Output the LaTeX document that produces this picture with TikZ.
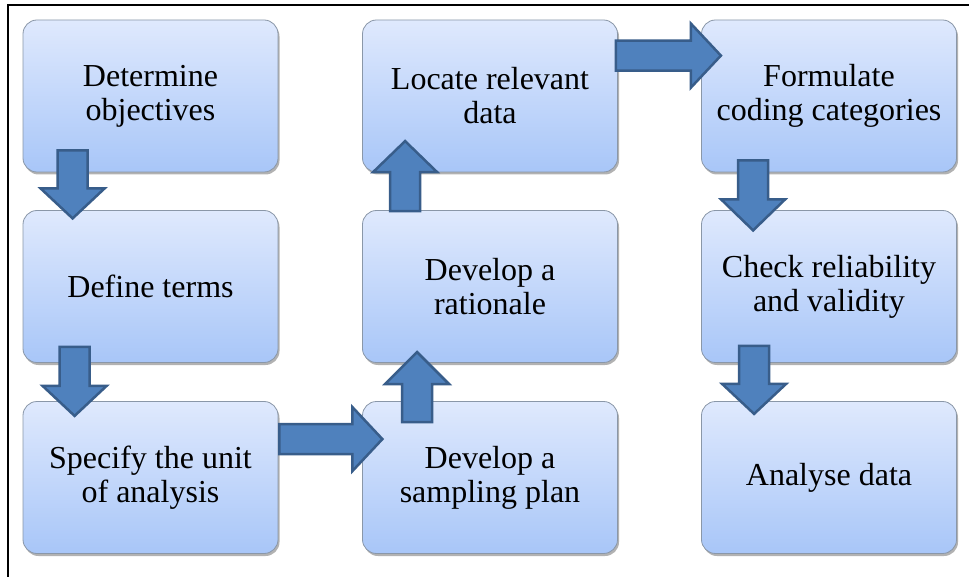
\documentclass[tikz,border=0pt]{standalone}
\usepackage{fontspec}
\setmainfont{Liberation Serif}
\usetikzlibrary{shadows}
\definecolor{boxtop}{HTML}{DFE9FD}
\definecolor{boxbot}{HTML}{A8C6F8}
\definecolor{boxline}{HTML}{8A97A8}
\definecolor{arrfill}{HTML}{4F81BD}
\definecolor{arrline}{HTML}{385D8A}
\tikzset{
  stepbox/.style={rectangle, rounded corners=14pt, minimum width=255pt, minimum height=152pt,
    top color=boxtop, bottom color=boxbot, draw=boxline, line width=0.8pt,
    drop shadow={shadow xshift=1.5pt, shadow yshift=-2.5pt, opacity=0.3, fill=black},
    font=\rmfamily\fontsize{32}{34}\selectfont, align=center, inner sep=0pt},
  blockarr/.style={fill=arrfill, draw=arrline, line width=2.5pt, line join=miter}
}
\newcommand\vblock[5]{%
  \begin{scope}[shift={(#1)}]
    \draw[blockarr] (#2-15,#3) -- (#2+15,#3) -- (#2+15,#4) -- (#2+32,#4) -- (#2,#5)
      -- (#2-32,#4) -- (#2-15,#4) -- cycle;
  \end{scope}}
\newcommand\hblock[5]{%
  \begin{scope}[shift={(#1)}]
    \draw[blockarr] (#3,#2-15) -- (#3,#2+15) -- (#4,#2+15) -- (#4,#2+32) -- (#5,#2)
      -- (#4,#2-32) -- (#4,#2-15) -- cycle;
  \end{scope}}
\begin{document}
\begin{tikzpicture}[x=1pt, y=-1pt]
\useasboundingbox (0,0) rectangle (969,577);
\fill[white] (0,0) rectangle (969,577);
\coordinate (frameTL) at (8,5);
\coordinate (frameTR) at (969,5);
\coordinate (frameBL) at (8,577);
\draw[line width=2.5pt] (frameTR) -- (frameTL) -- (frameBL);

\node[stepbox] (b1) at (150.5,96)   {Determine\\objectives};
\node[stepbox] (b2) at (150.5,286.5){Define terms};
\node[stepbox] (b3) at (150.5,477.5){Specify the unit\\of analysis};
\node[stepbox] (b4) at (490,477.5)  {Develop a\\sampling plan};
\node[stepbox] (b5) at (490,286.5)  {Develop a\\rationale};
\node[stepbox] (b6) at (490,96)     {Locate relevant\\data};
\node[stepbox] (b7) at (829,96)     {Formulate\\coding categories};
\node[stepbox] (b8) at (829,286.5)  {Check reliability\\and validity};
\node[stepbox] (b9) at (829,477.5)  {Analyse data};

\vblock{b1.south west}{50}{-22}{16}{46}
\vblock{b2.south west}{52}{-16}{23}{53}
\hblock{b3.north east}{38}{1}{74}{104}
\vblock{b4.north west}{55}{21}{-17}{-49}
\vblock{b5.north west}{43}{1}{-38}{-69}
\hblock{b6.north east}{36}{-2}{73}{103}
\vblock{b7.south west}{52}{-12}{27}{58}
\vblock{b8.south west}{53}{-17}{21}{51}
\end{tikzpicture}
\end{document}
